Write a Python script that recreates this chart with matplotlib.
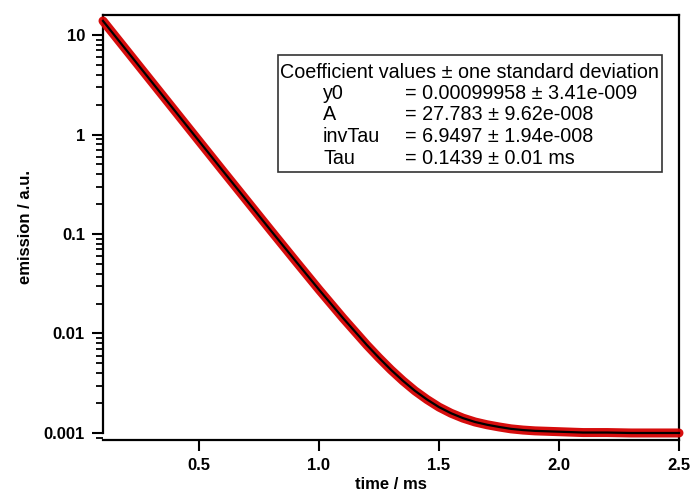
import matplotlib
matplotlib.use("Agg")
import matplotlib.pyplot as plt
from matplotlib.patches import Rectangle
from matplotlib.ticker import FixedLocator, LogLocator, NullFormatter

# =========================================================
# data (emission decay, log scale)
# =========================================================
time_ms = [0.10, 0.20, 0.30, 0.40, 0.50, 0.60, 0.70, 0.80, 0.90, 1.00,
           1.10, 1.20, 1.25, 1.30, 1.35, 1.40, 1.45, 1.50, 1.55, 1.60,
           1.65, 1.70, 1.75, 1.80, 1.85, 1.90, 1.95, 2.00, 2.10, 2.20,
           2.30, 2.40, 2.50]
emission = [13.87, 6.921, 3.454, 1.724, 0.8602, 0.4294, 0.2153, 0.1079,
            0.0544, 0.0276, 0.0143, 0.00763, 0.00569, 0.00431, 0.00334,
            0.00265, 0.00217, 0.00182, 0.00158, 0.00141, 0.00129, 0.00121,
            0.00115, 0.00110, 0.00107, 0.00105, 0.00104, 0.00103, 0.00101,
            0.00101, 0.00100, 0.00100, 0.00100]
fit_emission = emission

x_ticks = [0.5, 1.0, 1.5, 2.0, 2.5]
x_ticklabels = ["0.5", "1.0", "1.5", "2.0", "2.5"]
y_ticks = [0.001, 0.01, 0.1, 1, 10]
y_ticklabels = ["0.001", "0.01", "0.1", "1", "10"]

coef_header = "Coefficient values \u00b1 one standard deviation"
coef_names = ["y0", "A", "invTau", "Tau"]
coef_values = ["= 0.00099958 \u00b1 3.41e-009",
               "= 27.783 \u00b1 9.62e-008",
               "= 6.9497 \u00b1 1.94e-008",
               "= 0.1439 \u00b1 0.01 ms"]

plt.rcParams["font.family"] = ["Liberation Sans", "DejaVu Sans"]

W, H = 694, 498
fig = plt.figure(figsize=(W / 100, H / 100), dpi=100)

# axes box in pixels (left, top, right, bottom)
ax_l, ax_t, ax_r, ax_b = 103, 15, 679, 440
ax = fig.add_axes([ax_l / W, 1 - ax_b / H, (ax_r - ax_l) / W, (ax_b - ax_t) / H])

# measured trace (thick red) + fit (thin black)
ax.plot(time_ms, emission, color="#d40000", lw=6.5, solid_capstyle="round",
        solid_joinstyle="round", alpha=0.95, clip_on=False, zorder=3)
ax.plot(time_ms, fit_emission, color="black", lw=1.6, clip_on=False, zorder=4)

ax.set_yscale("log")
ax.set_xlim(0.1, 2.5)
ax.set_ylim(0.00085, 15.9)

# ticks
ax.xaxis.set_major_locator(FixedLocator(x_ticks))
ax.set_xticklabels(x_ticklabels, fontsize=12, fontweight="bold")
ax.yaxis.set_major_locator(FixedLocator(y_ticks))
ax.set_yticklabels(y_ticklabels, fontsize=12, fontweight="bold")
ax.yaxis.set_minor_locator(LogLocator(base=10, subs=range(2, 10)))
ax.yaxis.set_minor_formatter(NullFormatter())
ax.tick_params(axis="both", which="major", direction="out", length=8,
               width=1.5, pad=5)
ax.tick_params(axis="y", which="minor", direction="out", length=5, width=1.3)
ax.tick_params(axis="x", which="minor", bottom=False)

for side in ["left", "right", "top", "bottom"]:
    ax.spines[side].set_linewidth(1.6)
ax.spines["left"].set_bounds(0.001, 15.9)

ax.set_xlabel("time / ms", fontsize=12, fontweight="bold", labelpad=3)
ax.set_ylabel("emission / a.u.", fontsize=12, fontweight="bold", labelpad=8)

# coefficient box
bx0, by0, bx1, by1 = 278, 55, 662, 172
fig.patches.append(Rectangle((bx0 / W, 1 - by1 / H), (bx1 - bx0) / W,
                             (by1 - by0) / H, transform=fig.transFigure,
                             fill=False, edgecolor="#333333", lw=1.2))
fig.text(280 / W, 1 - 77.5 / H, coef_header, fontsize=14.2, va="baseline")
baselines = [99, 120.5, 142, 163.5]
for name, val, yb in zip(coef_names, coef_values, baselines):
    fig.text(323 / W, 1 - yb / H, name, fontsize=14.2, va="baseline")
    fig.text(405 / W, 1 - yb / H, val, fontsize=14.2, va="baseline")

fig.savefig("out.png", dpi=100)
